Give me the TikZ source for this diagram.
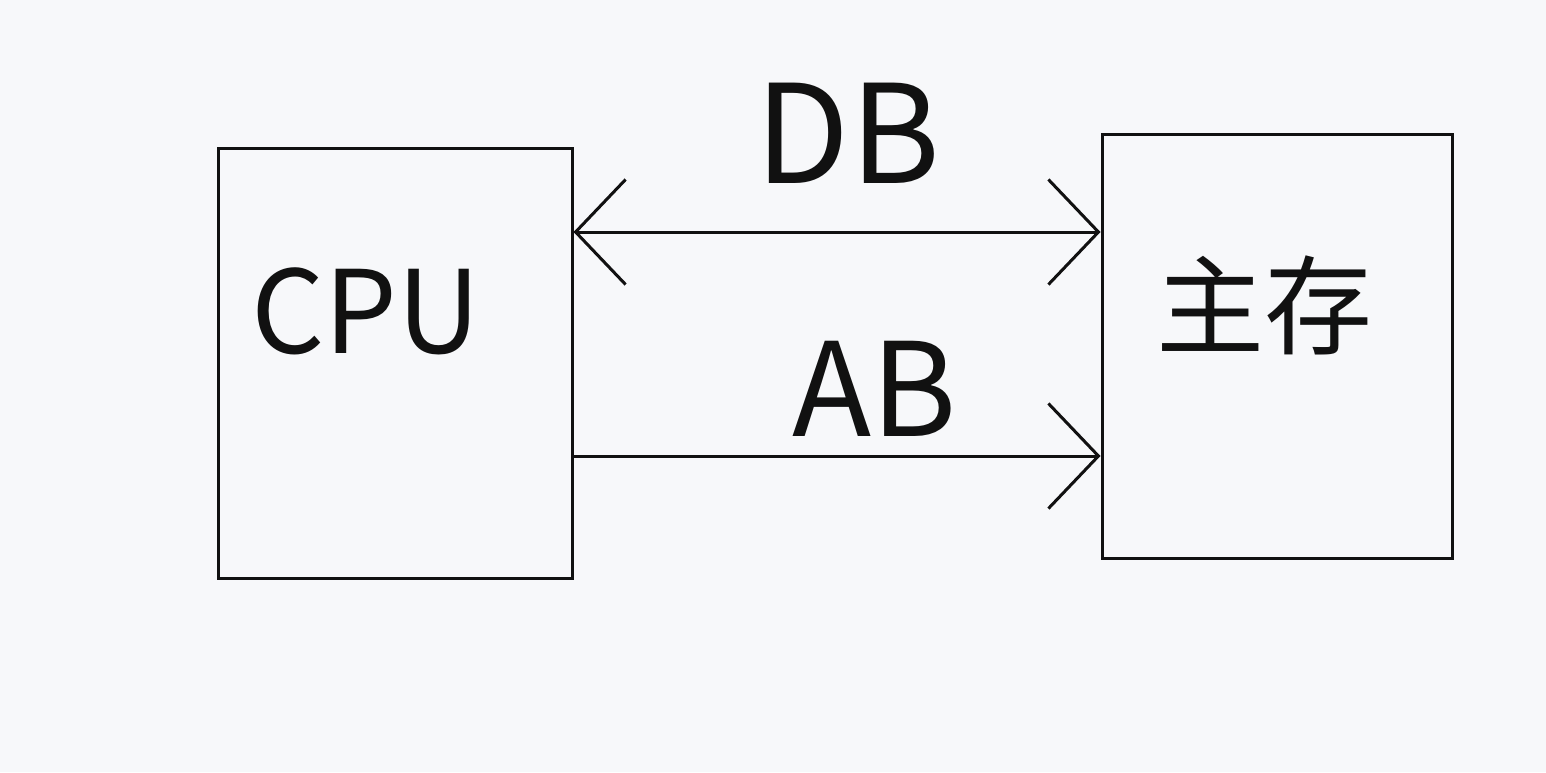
\documentclass[tikz,border=0pt]{standalone}
\usepackage{fontspec}
\setmainfont{Noto Sans CJK SC}
\usetikzlibrary{arrows.meta,positioning}
\definecolor{pagebg}{HTML}{F7F8FA}
\definecolor{ink}{HTML}{111111}

\begin{document}
\begin{tikzpicture}[x=1pt, y=-1pt,
  unit/.style={rectangle, draw=ink, line width=3pt, inner sep=0pt},
  bus/.style={draw=ink, line width=3pt},
  barb/.tip={Straight Barb[length=50pt, width=105pt, line width=3pt]},
  lbl/.style={text=ink, inner sep=0pt},
]
  \fill[pagebg] (0,0) rectangle (1546,772);
  \useasboundingbox (0,0) rectangle (1546,772);

  \node[unit, minimum width=354pt, minimum height=430pt] (cpu) at (395,363) {};
  \node[unit, minimum width=350pt, minimum height=424pt] (mem) at (1277,346) {};

  \node[lbl, font=\fontsize{115}{115}\selectfont] (cpulbl) at (366,311) {CPU};
  \node[lbl, font=\fontsize{108}{108}\selectfont] (memlbl) at (1264,305) {主存};

  % data bus, both ways
  \draw[bus, barb-barb] (cpu.east |- 0,232) -- (mem.west |- 0,232);
  \node[lbl, font=\fontsize{137}{137}\selectfont] (dblbl) at (848,133) {DB};

  % address bus, CPU to memory
  \draw[bus, -barb] (cpu.east |- 0,456) -- (mem.west |- 0,456);
  \node[lbl, font=\fontsize{130}{130}\selectfont] (ablbl) at (875,389) {AB};
\end{tikzpicture}
\end{document}
